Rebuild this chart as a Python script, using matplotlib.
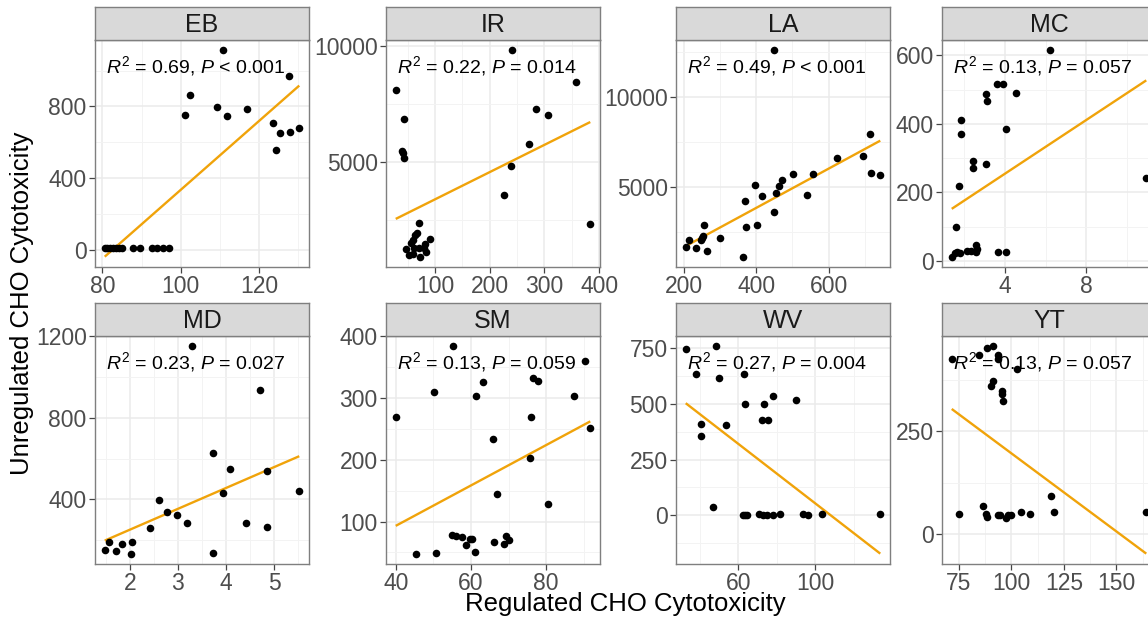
import matplotlib
matplotlib.use("Agg")
import matplotlib.pyplot as plt
import numpy as np
from matplotlib.ticker import FixedLocator

plt.rcParams['font.family'] = ['Liberation Sans', 'DejaVu Sans']
plt.rcParams['mathtext.fontset'] = 'custom'
plt.rcParams['mathtext.rm'] = 'Liberation Sans'
plt.rcParams['mathtext.it'] = 'Liberation Sans:italic'

# ---------------- data ----------------
panels = ["EB", "IR", "LA", "MC", "MD", "SM", "WV", "YT"]

eb_x = [80.6, 81.2, 81.9, 82.6, 83.4, 84.2, 85.0, 87.8, 89.7, 92.6, 94.0, 95.5, 97.1,
        101.0, 102.4, 109.3, 110.8, 111.8, 116.9, 123.5, 124.4, 125.4, 127.8, 128.0, 130.3]
eb_y = [10, 10, 10, 10, 10, 10, 10, 10, 10, 10, 10, 10, 10,
        750, 865, 796, 1113, 746, 787, 706, 556, 650, 968, 657, 682]

ir_x = [28.0, 39.0, 40.8, 42.7, 43.8, 46.9, 52.9, 56.0, 59.2, 59.2, 61.0, 63.4, 67.0, 70.1,
        71.2, 73.1, 79.3, 82.2, 83.5, 91.4, 225.8, 239.2, 240.5, 271.5, 283.7, 306.4, 357.0, 383.9]
ir_y = [8114, 5500, 5386, 6857, 5186, 1256, 999, 1500, 1029, 1642, 1316, 1856, 1959, 1316,
        2400, 930, 1316, 1470, 1144, 1672, 3571, 4857, 9829, 5772, 7286, 7029, 8471, 2329]

la_x = [203.9, 213.0, 232.5, 245.5, 250.0, 252.8, 255.6, 263.9, 299.2, 363.0, 367.7, 370.5,
        395.6, 401.0, 415.0, 449.2, 449.2, 453.9, 463.9, 470.5, 502.0, 540.0, 555.6, 623.3,
        694.4, 713.9, 718.6, 743.6]
la_y = [1660, 2030, 1588, 2030, 2140, 2250, 2877, 1420, 2140, 1107, 4206, 2730,
        5075, 2860, 4500, 12580, 3600, 4650, 5020, 5350, 5680, 4540, 5680, 6570,
        6710, 7910, 5740, 5660]

mc_x = [1.39, 1.54, 1.60, 1.67, 1.75, 1.80, 1.83, 1.87, 2.16, 2.32, 2.42, 2.45, 2.58, 2.60,
        2.65, 3.05, 3.09, 3.10, 3.61, 3.66, 3.92, 4.07, 4.07, 4.54, 6.20, 10.95]
mc_y = [12, 24, 98, 26, 219, 24, 371, 410, 29, 29, 272, 292, 46, 26,
        33, 284, 488, 467, 518, 26, 518, 384, 26, 491, 615, 243]

md_x = [1.48, 1.57, 1.72, 1.84, 2.02, 2.05, 2.41, 2.60, 2.78, 2.99, 3.18, 3.29, 3.73, 3.73,
        3.94, 4.08, 4.41, 4.70, 4.84, 4.86, 5.52]
md_y = [150, 193, 147, 180, 134, 191, 261, 395, 340, 322, 282, 1151, 627, 136,
        431, 550, 286, 937, 539, 263, 441]

sm_x = [40.0, 45.5, 50.1, 50.7, 55.2, 54.9, 56.1, 57.7, 58.6, 59.7, 60.2, 61.0, 61.2, 63.3,
        65.8, 66.1, 66.9, 68.8, 69.3, 70.2, 75.9, 75.8, 76.5, 77.9, 80.4, 87.3, 90.2, 91.7]
sm_y = [269, 48, 310, 49, 384, 78, 77, 75, 62, 72, 71, 50, 303, 327,
        234, 67, 144, 63, 77, 70, 269, 203, 333, 328, 129, 304, 361, 252]

wv_x = [32.7, 37.9, 40.4, 40.5, 47.0, 48.2, 50.1, 53.4, 62.3, 63.0, 63.3, 63.3, 64.4, 71.0,
        72.2, 73.0, 73.4, 75.1, 75.3, 78.3, 78.3, 81.7, 90.0, 93.9, 96.2, 103.8, 133.9]
wv_y = [746, 634, 356, 409, 37, 758, 616, 404, 3, 636, 500, 3, 3, 8,
        429, 3, 500, 3, 429, 536, 3, 5, 516, 5, 3, 8, 5]

yt_x = [71.7, 75.1, 84.8, 86.5, 88.1, 88.4, 88.4, 90.3, 91.4, 91.4, 93.5, 93.6, 93.8,
        94.7, 95.7, 95.7, 96.0, 97.5, 98.4, 99.9, 102.5, 104.8, 108.9, 118.9, 120.1, 164.2]
yt_y = [427, 49, 437, 68, 48, 454, 41, 362, 374, 458, 436, 46, 427,
        46, 350, 342, 325, 39, 46, 46, 402, 54, 49, 91, 53, 54]

# fitted line (intercept, slope) per panel
fit_intercept = [-1584, 2230, -518, 97.2, 46.3, -38.0, 721.1, 579.1]
fit_slope = [19.19, 11.74, 10.86, 39.27, 102.5, 3.276, -6.67, -3.824]

r2_labels = ["0.69", "0.22", "0.49", "0.13", "0.23", "0.13", "0.27", "0.13"]
p_labels = ["< 0.001", "= 0.014", "< 0.001", "= 0.057", "= 0.027", "= 0.059", "= 0.004", "= 0.057"]

x_ticks = [[80, 100, 120], [100, 200, 300, 400], [200, 400, 600], [4, 8, 12],
           [2, 3, 4, 5], [40, 60, 80], [60, 100], [75, 100, 125, 150]]
y_ticks = [[0, 400, 800], [5000, 10000], [5000, 10000], [0, 200, 400, 600],
           [400, 800, 1200], [100, 200, 300, 400], [0, 250, 500, 750], [0, 250]]

xs = [eb_x, ir_x, la_x, mc_x, md_x, sm_x, wv_x, yt_x]
ys = [eb_y, ir_y, la_y, mc_y, md_y, sm_y, wv_y, yt_y]

# ---------------- layout ----------------
W, H = 1148, 623
fig = plt.figure(figsize=(W / 100, H / 100), dpi=100)
col_left = [95, 386, 676, 942]
panel_w = 214
row_top = [40, 336]
panel_h = [227, 228]
strip_h = 33

border = '#7f7f7f'
line_col = '#F0A30A'


def expand(lo, hi, f=0.05):
    d = hi - lo
    return lo - f * d, hi + f * d


def minors(major):
    m = np.asarray(major, dtype=float)
    step = m[1] - m[0]
    ext = np.concatenate([[m[0] - step], m, [m[-1] + step]])
    return (ext[:-1] + ext[1:]) / 2


for i, name in enumerate(panels):
    r, c = divmod(i, 4)
    l, t, h = col_left[c], row_top[r], panel_h[r]
    ax = fig.add_axes([l / W, 1 - (t + h) / H, panel_w / W, h / H])
    sax = fig.add_axes([l / W, 1 - t / H, panel_w / W, strip_h / H])

    x = np.array(xs[i], dtype=float)
    y = np.array(ys[i], dtype=float)
    lx = np.array([x.min(), x.max()])
    ly = fit_intercept[i] + fit_slope[i] * lx

    ax.set_axisbelow(True)
    ax.plot(lx, ly, color=line_col, lw=1.7, zorder=2, solid_capstyle='butt')
    ax.scatter(x, y, s=30, color='black', zorder=3, linewidths=0)

    xl = expand(x.min(), x.max())
    ylo = min(y.min(), ly.min())
    yhi = max(y.max(), ly.max())
    yl = expand(ylo, yhi)

    ax.xaxis.set_major_locator(FixedLocator(x_ticks[i]))
    ax.yaxis.set_major_locator(FixedLocator(y_ticks[i]))
    ax.xaxis.set_minor_locator(FixedLocator(minors(x_ticks[i])))
    ax.yaxis.set_minor_locator(FixedLocator(minors(y_ticks[i])))
    ax.set_xlim(*xl)
    ax.set_ylim(*yl)
    ax.grid(which='major', color='#EBEBEB', lw=1.1)
    ax.grid(which='minor', color='#F3F3F3', lw=0.7)
    ax.tick_params(which='major', direction='out', length=4, width=0.9, color='#444444',
                   labelcolor='#4D4D4D', labelsize=16.5, pad=2)
    ax.tick_params(which='minor', length=0)
    for s in ax.spines.values():
        s.set_color(border)
        s.set_linewidth(1.0)

    ax.text(0.053, 0.858, r"$R^2$ = " + r2_labels[i] + ", $P$ " + p_labels[i],
            transform=ax.transAxes, ha='left', va='baseline', fontsize=14, color='black')

    sax.set_facecolor('#D9D9D9')
    sax.set_xticks([])
    sax.set_yticks([])
    for s in sax.spines.values():
        s.set_color(border)
        s.set_linewidth(1.0)
    sax.text(0.5, 0.45, name, ha='center', va='center', fontsize=18, color='#1A1A1A',
             transform=sax.transAxes)

fig.text(625 / W, 1 - 604 / H, "Regulated CHO Cytotoxicity", ha='center', va='center',
         fontsize=18.5, color='black')
fig.text(22 / W, 1 - 303 / H, "Unregulated CHO Cytotoxicity", ha='center', va='center',
         rotation=90, fontsize=18.5, color='black')

fig.savefig("out.png", dpi=100)
